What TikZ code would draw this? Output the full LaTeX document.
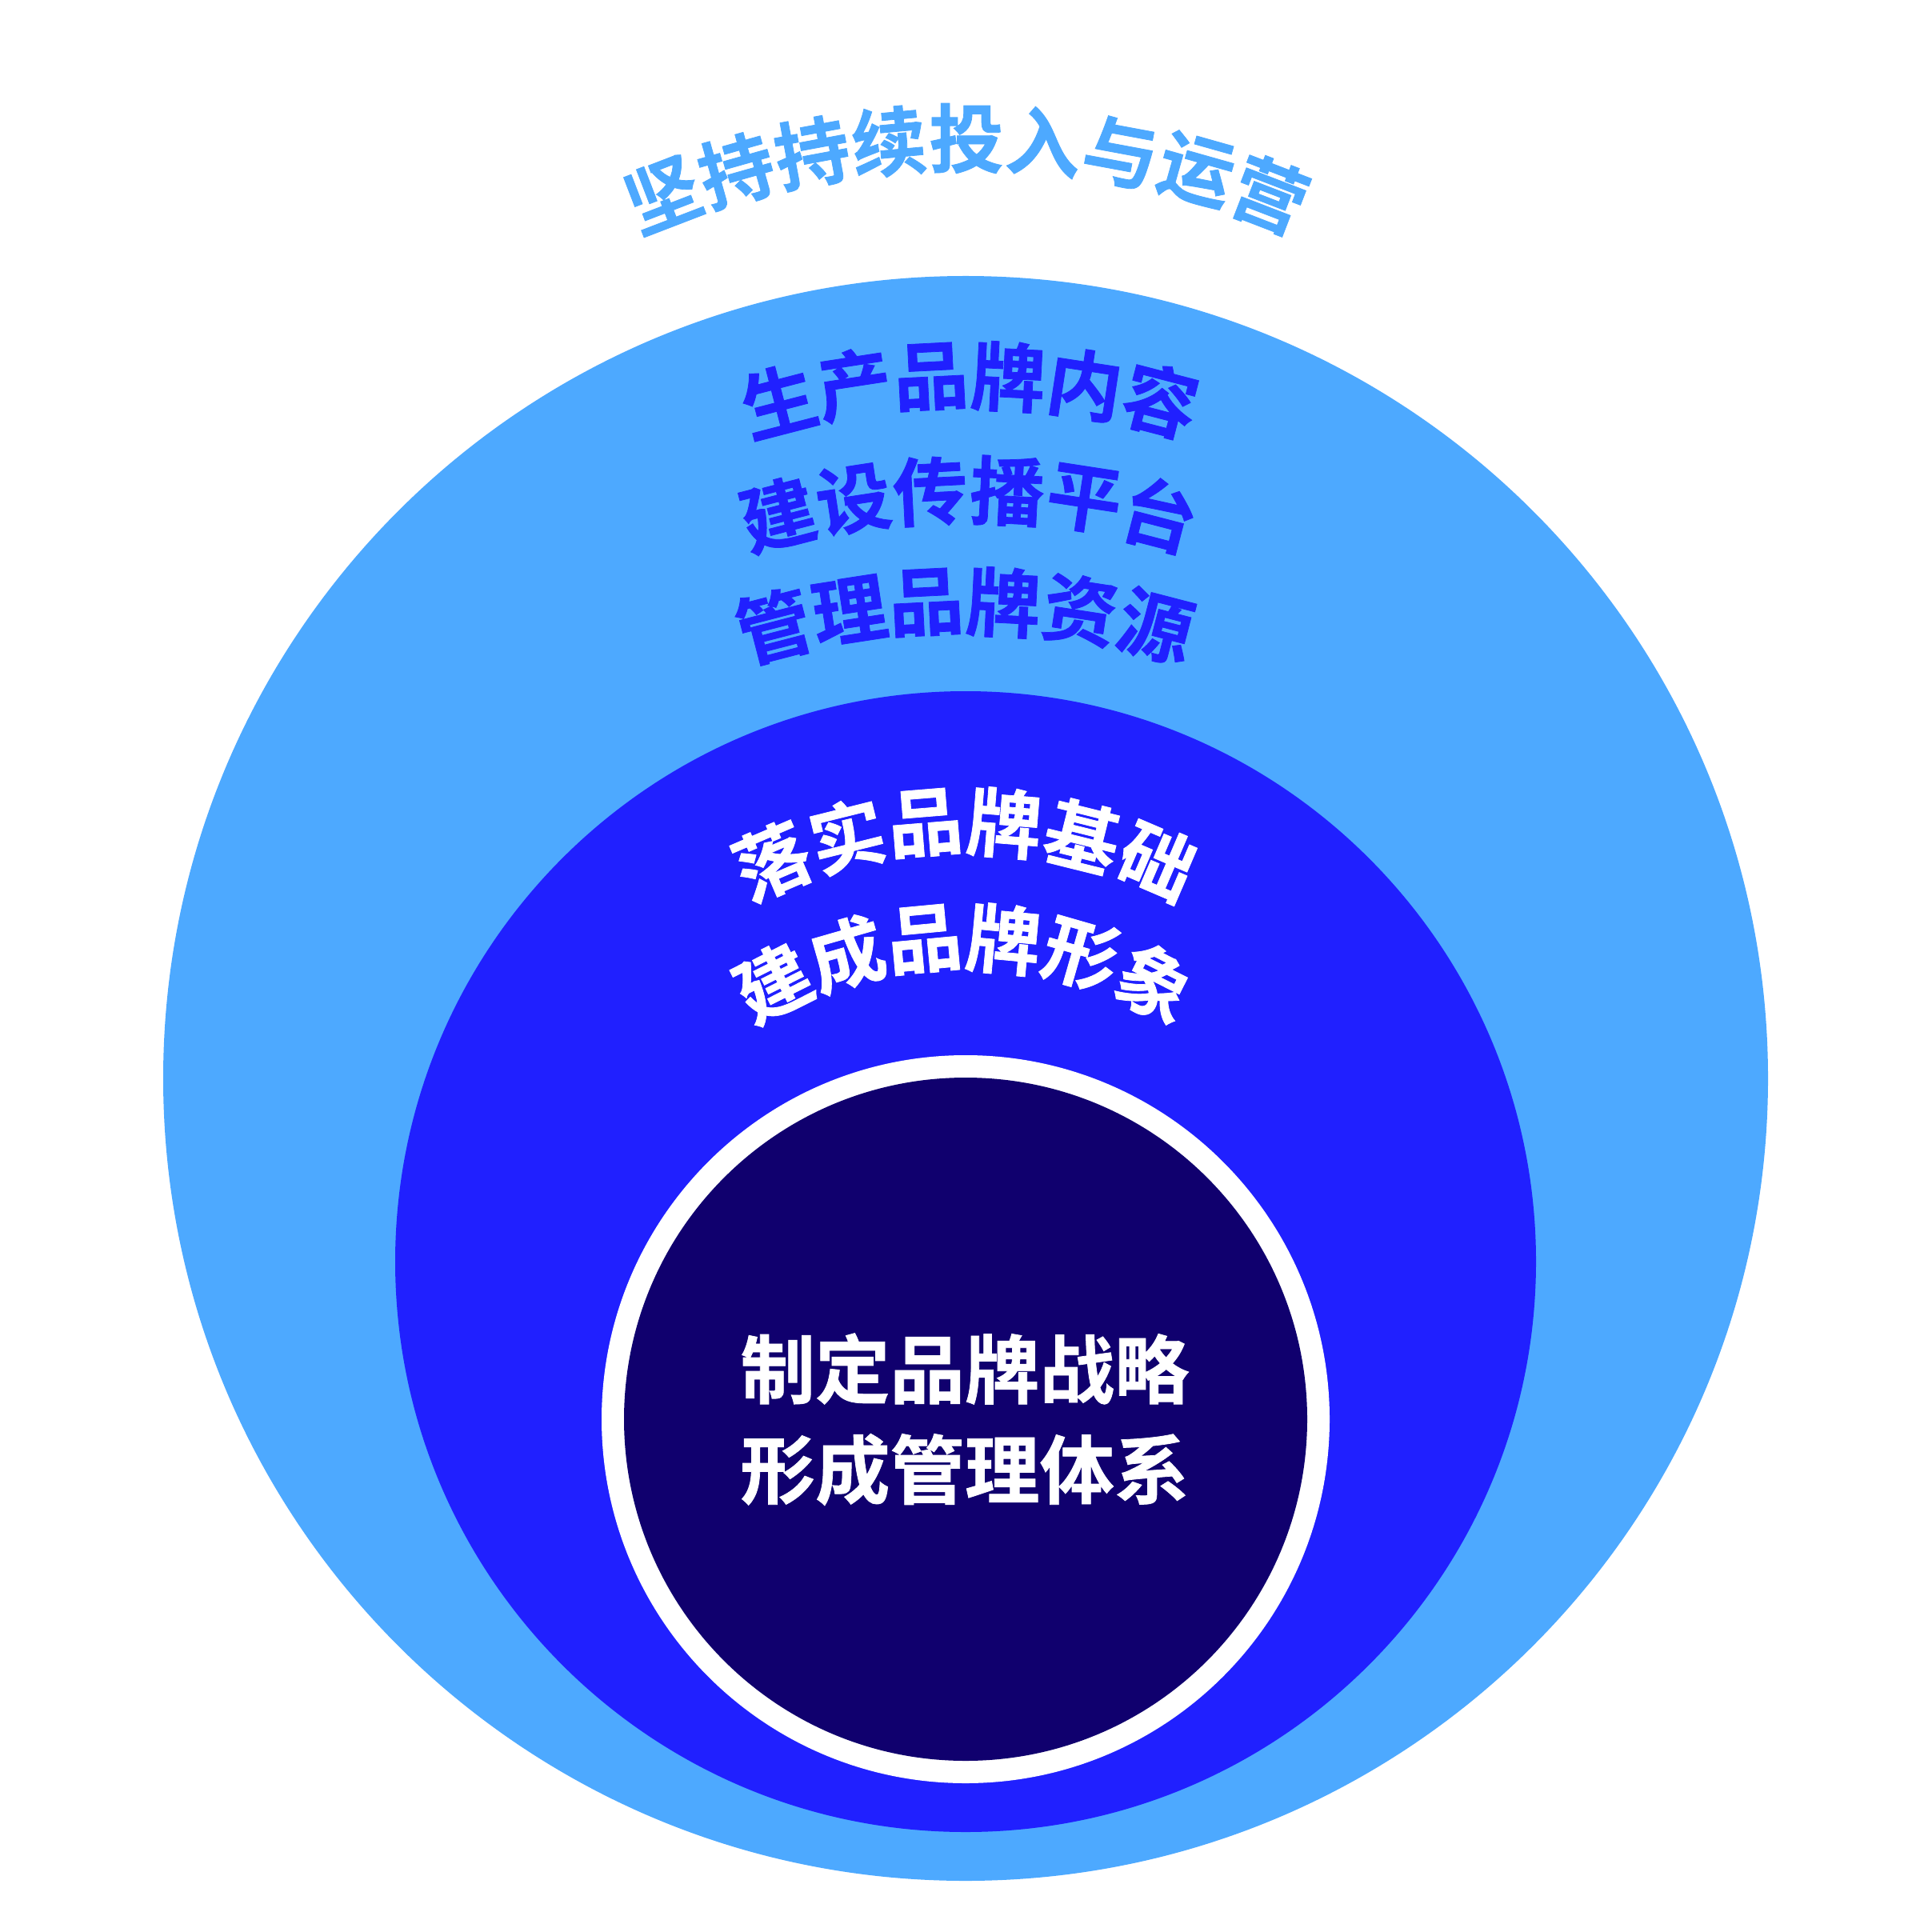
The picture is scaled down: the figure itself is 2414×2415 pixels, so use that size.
\documentclass[tikz,border=0pt]{standalone}
\usepackage{fontspec}
\newfontfamily\cjk{Noto Sans CJK SC}[BoldFont={Noto Sans CJK SC Bold}, BoldFeatures={FakeBold=0.8}]
\definecolor{lightblue}{RGB}{77,169,255}
\definecolor{midblue}{RGB}{32,32,255}
\definecolor{darkblue}{RGB}{16,0,110}
\tikzset{
  glyph/.style={font=\cjk\bfseries\fontsize{26.6pt}{32pt}\selectfont, inner sep=0pt, outer sep=0pt, anchor=center}
}
% prefix, chars, n, centre x, apex y, radius, advance, colour
\newcommand\mkarcline[8]{%
  \foreach \ch [count=\i from 0] in {#2} {
    \pgfmathsetmacro\th{(\i-(#3-1)/2)*(#7)/(#6)*57.29578}
    \node[glyph, text=#8, rotate=-\th] (#1-\i) at ({#4+(#6)*sin(\th)}, {#5+(#6)-(#6)*cos(\th)}) {\ch};
  }}
\begin{document}
\begin{tikzpicture}[x=0.1mm, y=-0.1mm]
  \useasboundingbox (0,0) rectangle (2414,2415);
  \fill[white] (0,0) rectangle (2414,2415);
  % discs
  \fill[lightblue] (1207,1348) circle[radius=1003];
  \fill[midblue]   (1207,1577) circle[radius=713];
  \fill[white]     (1207,1774) circle[radius=455];
  \fill[darkblue]  (1207,1774) circle[radius=427];
  % title
  \mkarcline{title}{坚,持,持,续,投,入,与,运,营}{9}{1208}{173}{1056}{97}{lightblue}
  % outer ring
  \mkarcline{oa}{生,产,品,牌,内,容}{6}{1212}{470}{950}{96.5}{midblue}
  \mkarcline{ob}{建,设,传,播,平,台}{6}{1211}{613}{950}{96.5}{midblue}
  \mkarcline{oc}{管,理,品,牌,资,源}{6}{1206}{752}{950}{96.5}{midblue}
  % middle ring
  \mkarcline{ma}{落,实,品,牌,基,础}{6}{1206}{1027}{610}{99}{white}
  \mkarcline{mb}{建,成,品,牌,形,象}{6}{1205}{1172}{530}{99}{white}
  % core
  \node[glyph, text=white] (core1) at (1206,1711) {制定品牌战略};
  \node[glyph, text=white] (core2) at (1206,1837) {形成管理体系};
\end{tikzpicture}
\end{document}
